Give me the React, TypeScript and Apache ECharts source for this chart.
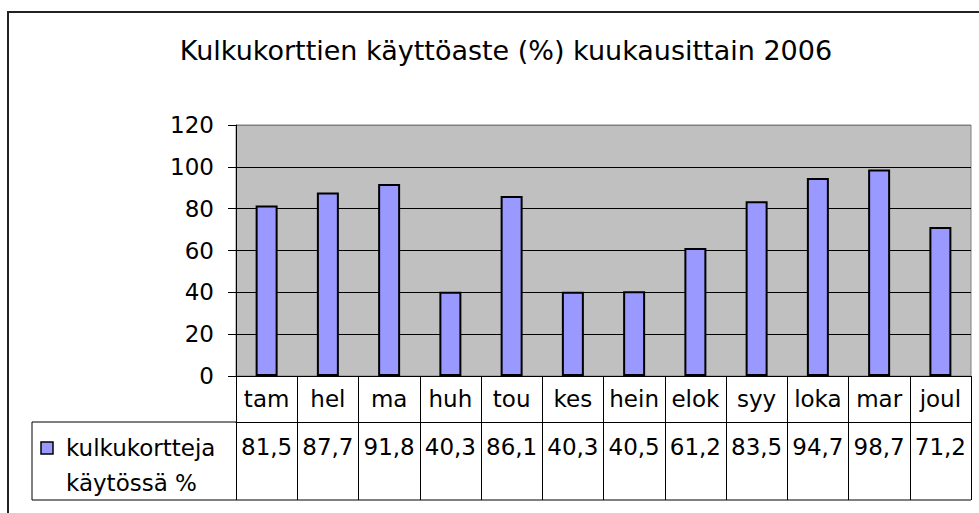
import React, { useEffect, useRef } from "react";
import * as echarts from "echarts";

const titleText = "Kulkukorttien käyttöaste (%) kuukausittain 2006";
const categories = ["tam", "hel", "ma", "huh", "tou", "kes", "hein", "elok", "syy", "loka", "mar", "joul"];
const values = [81.5, 87.7, 91.8, 40.3, 86.1, 40.3, 40.5, 61.2, 83.5, 94.7, 98.7, 71.2];
const seriesNameLines = ["kulkukortteja", "käytössä %"];
const yTicks = { min: 0, max: 120, interval: 20 };

const FONT = "DejaVu Sans";

export default function App() {
  const ref = useRef<HTMLDivElement>(null);
  useEffect(() => {
    document.body.style.margin = "0";
    if (!ref.current) return;
    const chart = echarts.init(ref.current, null, { renderer: "svg" });
    const valueLabels = values.map((v) => v.toFixed(1).replace(".", ","));
    const gridLeft = 236;
    const gridRight = 8;
    const gridTop = 125;
    const gridBottom = 137;
    const axisY = 513 - gridBottom; // 376
    const row1 = 46;
    const row2 = 78;
    const tableLeft = 32;
    const splitColors = ["#000", "#000", "#000", "#000", "#000", "#000", "#808080"];
    chart.setOption({
      animation: false,
      title: {
        text: titleText,
        left: 501,
        top: 32,
        textAlign: "center",
        textStyle: { fontSize: 27, fontWeight: "normal", fontFamily: FONT, color: "#000" },
      },
      grid: {
        left: gridLeft,
        right: gridRight,
        top: gridTop,
        bottom: gridBottom,
        show: true,
        backgroundColor: "#C0C0C0",
        borderColor: "#808080",
        borderWidth: 1,
      },
      xAxis: [
        {
          type: "category",
          data: categories,
          position: "bottom",
          axisLine: { show: true, lineStyle: { color: "#000", width: 1 } },
          axisTick: { show: true, length: row1, interval: 0, lineStyle: { color: "#000", width: 1 } },
          axisLabel: {
            interval: 0,
            margin: 11,
            fontSize: 23,
            lineHeight: 23,
            fontFamily: FONT,
            color: "#000",
          },
          splitLine: { show: false },
        },
        {
          type: "category",
          data: valueLabels,
          position: "bottom",
          offset: row1,
          axisLine: { show: true, lineStyle: { color: "#000", width: 1 } },
          axisTick: { show: true, length: row2, interval: 0, lineStyle: { color: "#000", width: 1 } },
          axisLabel: {
            interval: 0,
            margin: 13,
            fontSize: 23,
            lineHeight: 23,
            fontFamily: FONT,
            color: "#000",
          },
          splitLine: { show: false },
        },
      ],
      yAxis: {
        type: "value",
        min: yTicks.min,
        max: yTicks.max,
        interval: yTicks.interval,
        axisLine: { show: true, lineStyle: { color: "#000", width: 1 } },
        axisTick: { show: true, length: 8, lineStyle: { color: "#000", width: 1 } },
        axisLabel: { margin: 22, fontSize: 23, fontFamily: FONT, color: "#000" },
        splitLine: { show: true, lineStyle: { color: splitColors, width: 1 } },
      },
      series: [
        {
          type: "bar",
          name: seriesNameLines.join(" "),
          data: values,
          xAxisIndex: 0,
          barWidth: 22,
          itemStyle: { color: "#9999FF", borderColor: "#000", borderWidth: 2 },
        },
      ],
      graphic: [
        {
          type: "rect",
          shape: { x: 8, y: 12, width: 1100, height: 700 },
          style: { fill: "none", stroke: "#222", lineWidth: 2 },
          silent: true,
        },
        {
          type: "line",
          shape: { x1: tableLeft, y1: axisY + row1, x2: gridLeft, y2: axisY + row1 },
          style: { stroke: "#000", lineWidth: 1 },
        },
        {
          type: "line",
          shape: { x1: tableLeft, y1: axisY + row1 + row2, x2: 979 - gridRight, y2: axisY + row1 + row2 },
          style: { stroke: "#000", lineWidth: 1 },
        },
        {
          type: "line",
          shape: { x1: tableLeft, y1: axisY + row1, x2: tableLeft, y2: axisY + row1 + row2 },
          style: { stroke: "#000", lineWidth: 1 },
        },
        {
          type: "rect",
          shape: { x: 41, y: 442, width: 12, height: 12 },
          style: { fill: "#9999FF", stroke: "#000", lineWidth: 1.5 },
        },
        {
          type: "text",
          x: 66,
          y: 430,
          style: {
            text: seriesNameLines.join("\n"),
            fontSize: 23,
            lineHeight: 35,
            fontFamily: FONT,
            fill: "#000",
            textVerticalAlign: "top",
          },
        },
      ],
    });
    return () => chart.dispose();
  }, []);
  return <div ref={ref} style={{ width: 979, height: 513 }} />;
}
